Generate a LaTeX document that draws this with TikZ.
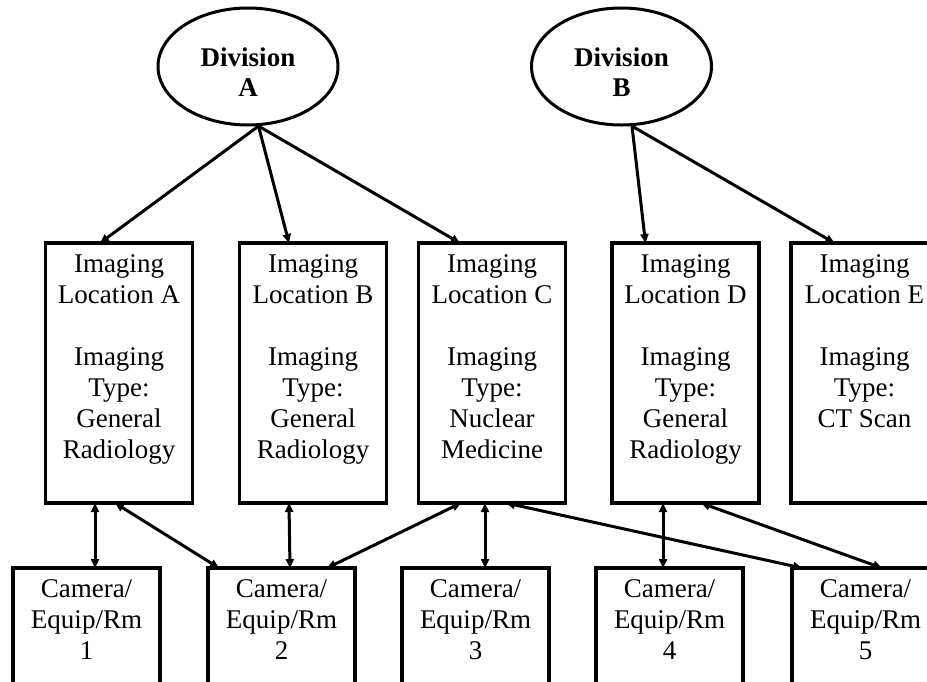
\documentclass[tikz,border=0pt]{standalone}
\usepackage{fontspec}
\setmainfont{Liberation Serif}
\usetikzlibrary{arrows.meta}
\usetikzlibrary{shapes.geometric}

\begin{document}
\begin{tikzpicture}[x=1pt, y=-1pt, font=\fontsize{27}{31}\selectfont,
    division/.style = {draw, ellipse, line width=3pt, minimum width=180pt, minimum height=117pt, inner sep=0pt},
    divtext/.style = {align=center, inner sep=0pt, font=\fontsize{27}{30}\selectfont\bfseries},
    locbox/.style = {draw, rectangle, line width=3.5pt, minimum width=147pt, minimum height=260pt, outer sep=0pt},
    cambox/.style = {draw, rectangle, line width=3.5pt, minimum width=147pt, minimum height=150pt, outer sep=0pt},
    intext/.style = {anchor=north, align=center, inner sep=11pt},
    link/.style = {line width=3pt, -{Triangle[length=9pt,width=8pt]}},
    both/.style = {line width=3pt, {Triangle[length=9pt,width=8pt]}-{Triangle[length=9pt,width=8pt]}}]

    \path[use as bounding box, fill=white] (0, 0) rectangle (927, 681);
    \clip (0, 0) rectangle (927, 681);

    % divisions
    \node [division] (divA) at (248, 66.5) {};
    \node [division] (divB) at (621.5, 66.5) {};
    \node [divtext] (txtA) at (248, 72) {Division\\A};
    \node [divtext] (txtB) at (621.5, 72) {Division\\B};

    % imaging locations
    \node [locbox] (locA) at (119, 373) {};
    \node [locbox] (locB) at (313, 373) {};
    \node [locbox] (locC) at (492, 373) {};
    \node [locbox] (locD) at (685.5, 373) {};
    \node [locbox] (locE) at (864.5, 373) {};

    \node [intext] (txtlocA) at (locA.north) {Imaging\\Location A\\[31pt]Imaging\\Type:\\General\\Radiology};
    \node [intext] (txtlocB) at (locB.north) {Imaging\\Location B\\[31pt]Imaging\\Type:\\General\\Radiology};
    \node [intext] (txtlocC) at (locC.north) {Imaging\\Location C\\[31pt]Imaging\\Type:\\Nuclear\\Medicine};
    \node [intext] (txtlocD) at (locD.north) {Imaging\\Location D\\[31pt]Imaging\\Type:\\General\\Radiology};
    \node [intext] (txtlocE) at (locE.north) {Imaging\\Location E\\[31pt]Imaging\\Type:\\CT Scan};

    % camera / equipment / rooms
    \node [cambox] (cam1) at (86.5, 643) {};
    \node [cambox] (cam2) at (281.5, 643) {};
    \node [cambox] (cam3) at (475.5, 643) {};
    \node [cambox] (cam4) at (669.5, 643) {};
    \node [cambox] (cam5) at (865.5, 643) {};

    \node [intext] (txtcam1) at (cam1.north) {Camera/\\Equip/Rm\\1};
    \node [intext] (txtcam2) at (cam2.north) {Camera/\\Equip/Rm\\2};
    \node [intext] (txtcam3) at (cam3.north) {Camera/\\Equip/Rm\\3};
    \node [intext] (txtcam4) at (cam4.north) {Camera/\\Equip/Rm\\4};
    \node [intext] (txtcam5) at (cam5.north) {Camera/\\Equip/Rm\\5};

    \draw[link] (divA.-80) to ([xshift=-19pt]locA.north);
    \draw[link] (divA.-80) to ([xshift=-24pt]locB.north);
    \draw[link] (divA.-80) to ([xshift=-32pt]locC.north);
    \draw[link] (divB.-80) to ([xshift=-40pt]locD.north);
    \draw[link] (divB.-80) to ([xshift=-30pt]locE.north);

    \draw[both] ([xshift=8.5pt]cam1.north) to ([xshift=-24pt]locA.south);
    \draw[both] ([xshift=-62.5pt]cam2.north) to ([xshift=-4pt]locA.south);
    \draw[both] ([xshift=8.5pt]cam2.north) to ([xshift=-24pt]locB.south);
    \draw[both] ([xshift=45.5pt]cam2.north) to ([xshift=-31pt]locC.south);
    \draw[both] ([xshift=9.5pt]cam3.north) to ([xshift=-7pt]locC.south);
    \draw[both] ([xshift=-6.5pt]cam4.north) to ([xshift=-22.5pt]locD.south);
    \draw[both] ([xshift=-63.5pt]cam5.north) to ([xshift=14pt]locC.south);
    \draw[both] ([xshift=16.5pt]cam5.north) to ([xshift=15.5pt]locD.south);

\end{tikzpicture}
\end{document}
